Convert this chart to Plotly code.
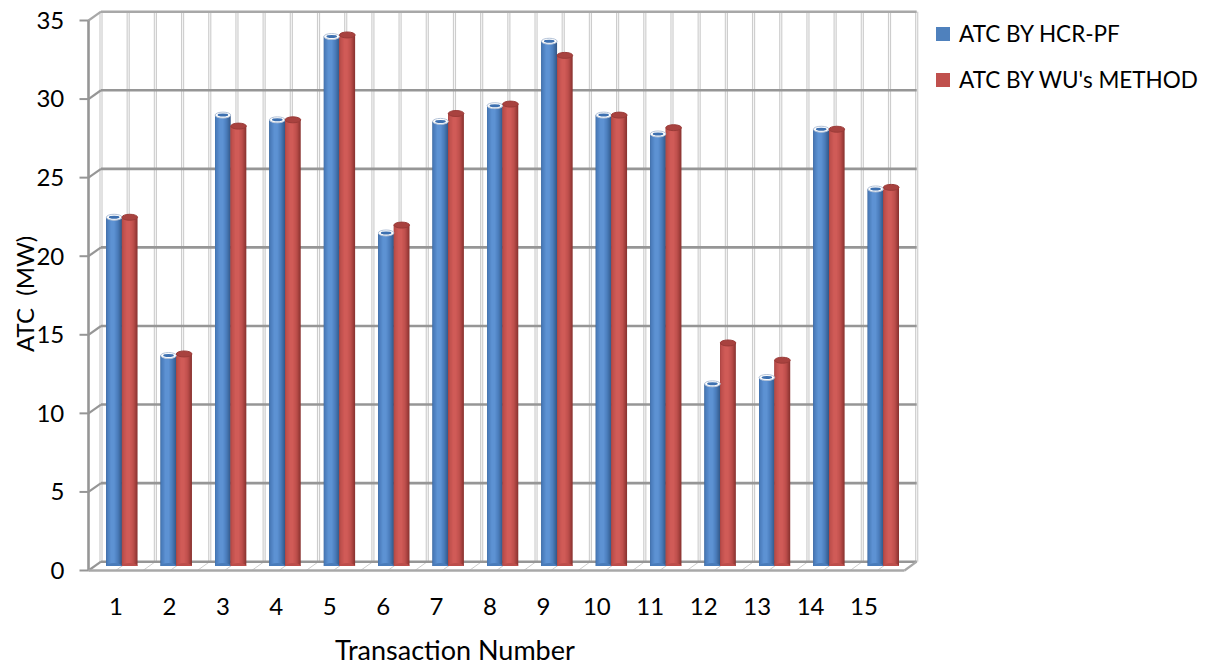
import plotly.graph_objects as go

# ---- data -------------------------------------------------------------
transactions = [str(i) for i in range(1, 16)]
atc_hcr_pf = [22.2, 13.4, 28.7, 28.4, 33.7, 21.2, 28.3, 29.3, 33.4, 28.7, 27.5, 11.6, 12.0, 27.8, 24.0]
atc_wu = [22.2, 13.5, 28.0, 28.4, 33.8, 21.7, 28.8, 29.4, 32.5, 28.7, 27.9, 14.2, 13.1, 27.8, 24.1]
y_ticks = [0, 5, 10, 15, 20, 25, 30, 35]
series_names = ["ATC BY HCR-PF", "ATC BY WU's METHOD"]

# ---- geometry of the pseudo-3D box (pixels) ---------------------------
W, H = 1211, 666
YMAX = 35
N = len(transactions)
# (left x, right x, y of value 0, y of value YMAX)
FRONT = (88.5, 904.5, 570.5, 20.5)
BACK = (101.0, 916.7, 561.7, 11.7)
MID = tuple((a + b) / 2 for a, b in zip(FRONT, BACK))
# plane on which the category labels sit
LABELS = (89.3, 890.7, 570.5, 20.5)

FONT = "Lato"
GRID_DARK = "#969696"
GRID_LIGHT = "#cdcdcd"


def dom_x(p):
    return [p[0] / W, p[1] / W]


def dom_y(p):
    return [1 - p[2] / H, 1 - p[3] / H]


def px(p, c):
    """paper x of category coordinate c on plane p"""
    return (p[0] + (c + 0.5) / N * (p[1] - p[0])) / W


def py(p, v):
    """paper y of value v on plane p"""
    return 1 - (p[2] + (p[3] - p[2]) * v / YMAX) / H


def hex_rgb(h):
    h = h.lstrip("#")
    return tuple(int(h[i:i + 2], 16) for i in (0, 2, 4))


def blend(a, b, t):
    ra, rb = hex_rgb(a), hex_rgb(b)
    return "rgb(%d,%d,%d)" % tuple(round(x + (y - x) * t) for x, y in zip(ra, rb))


BW = 0.287  # bar width in category units


def cylinder(values, offset, edge, mid, hi):
    """nested bars giving a shaded cylinder look"""
    traces = []
    K = 8
    centre = 0.40
    for k in range(K):
        t = k / (K - 1)
        col = blend(edge, mid, t * 2) if t < 0.5 else blend(mid, hi, (t - 0.5) * 2)
        hw = 0.62 - k * 0.07
        lo, up = max(0.0, centre - hw), min(1.0, centre + hw)
        traces.append(go.Bar(
            x=list(range(N)), y=values,
            offset=offset + lo * BW, width=(up - lo) * BW,
            marker=dict(color=col, line=dict(width=0)),
            showlegend=False, hoverinfo="skip",
        ))
    return traces


fig = go.Figure()
for tr in cylinder(atc_hcr_pf, -BW, "#33598a", "#4a7cba", "#5d92d3"):
    fig.add_trace(tr)
for tr in cylinder(atc_wu, 0.0, "#8a3330", "#bc4e4b", "#d05b57"):
    fig.add_trace(tr)

# dummy trace so the label axes are drawn
fig.add_trace(go.Scatter(x=[0], y=[0], xaxis="x2", yaxis="y2", mode="markers",
                         marker=dict(opacity=0), showlegend=False, hoverinfo="skip"))

shapes = []
half_steps = [i * 0.5 - 0.5 for i in range(2 * N + 1)]

# back-wall vertical grid (double hairlines)
for c in half_steps:
    x = px(BACK, c)
    shapes.append(dict(type="line", xref="paper", yref="paper", layer="below",
                       x0=x, x1=x, y0=py(BACK, 0), y1=py(BACK, YMAX),
                       line=dict(color=GRID_LIGHT, width=3.2)))
    shapes.append(dict(type="line", xref="paper", yref="paper", layer="below",
                       x0=x, x1=x, y0=py(BACK, 0), y1=py(BACK, YMAX),
                       line=dict(color="#f7f7f7", width=1)))
    # floor depth lines
    shapes.append(dict(type="line", xref="paper", yref="paper", layer="below",
                       x0=x, x1=px(FRONT, c), y0=py(BACK, 0), y1=py(FRONT, 0),
                       line=dict(color=GRID_LIGHT, width=1)))

# back-wall horizontal grid and left-wall connectors
for v in y_ticks:
    col = "#a8a8a8" if v == YMAX else GRID_DARK
    shapes.append(dict(type="line", xref="paper", yref="paper", layer="below",
                       x0=px(BACK, -0.5), x1=px(BACK, N - 0.5), y0=py(BACK, v), y1=py(BACK, v),
                       line=dict(color=col, width=2.6)))
    shapes.append(dict(type="line", xref="paper", yref="paper", layer="below",
                       x0=px(FRONT, -0.5), x1=px(BACK, -0.5), y0=py(FRONT, v), y1=py(BACK, v),
                       line=dict(color=col, width=2.2)))
    # tick mark on the front edge
    shapes.append(dict(type="line", xref="paper", yref="paper", layer="below",
                       x0=px(FRONT, -0.5) - 9 / W, x1=px(FRONT, -0.5), y0=py(FRONT, v), y1=py(FRONT, v),
                       line=dict(color=GRID_DARK, width=2)))

# front vertical edge of the box
shapes.append(dict(type="line", xref="paper", yref="paper", layer="below",
                   x0=px(FRONT, -0.5), x1=px(FRONT, -0.5), y0=py(FRONT, 0), y1=py(FRONT, YMAX),
                   line=dict(color=GRID_DARK, width=2.6)))
# front edge and right end of the floor slab
shapes.append(dict(type="line", xref="paper", yref="paper", layer="below",
                   x0=px(FRONT, -0.5), x1=px(FRONT, N - 0.5), y0=py(FRONT, 0), y1=py(FRONT, 0),
                   line=dict(color="#a8a8a8", width=2.6)))
shapes.append(dict(type="line", xref="paper", yref="paper", layer="below",
                   x0=px(FRONT, N - 0.5), x1=px(BACK, N - 0.5), y0=py(FRONT, 0), y1=py(BACK, 0),
                   line=dict(color="#a8a8a8", width=2.2)))

# cylinder caps and rounded bottoms
CAP = 0.19
for i in range(N):
    v = atc_hcr_pf[i]
    x0, x1 = i - BW, i
    shapes.append(dict(type="circle", xref="x", yref="y", layer="above",
                       x0=x0, x1=x1, y0=-CAP, y1=CAP,
                       fillcolor="#4a7cba", line=dict(width=0)))
    shapes.append(dict(type="circle", xref="x", yref="y", layer="above",
                       x0=x0, x1=x1, y0=v - CAP, y1=v + CAP,
                       fillcolor="#ffffff", line=dict(color="#b4c3d8", width=1)))
    shapes.append(dict(type="circle", xref="x", yref="y", layer="above",
                       x0=x0 + BW * 0.16, x1=x1 - BW * 0.16, y0=v - CAP * 0.5, y1=v + CAP * 0.5,
                       fillcolor="#3d70b0", line=dict(width=0)))
    v = atc_wu[i]
    x0, x1 = i, i + BW
    shapes.append(dict(type="circle", xref="x", yref="y", layer="above",
                       x0=x0, x1=x1, y0=-CAP, y1=CAP,
                       fillcolor="#bc4e4b", line=dict(width=0)))
    shapes.append(dict(type="circle", xref="x", yref="y", layer="above",
                       x0=x0, x1=x1, y0=v - CAP, y1=v + CAP,
                       fillcolor="#a8423f", line=dict(color="#9a3b38", width=1)))

# legend
legend_colors = ["#4f81bd", "#c0504d"]
legend_y = [34, 80]
annotations = []
for name, col, ly in zip(series_names, legend_colors, legend_y):
    shapes.append(dict(type="rect", xref="paper", yref="paper",
                       x0=936 / W, x1=950 / W, y0=1 - (ly - 7) / H, y1=1 - (ly + 7) / H,
                       fillcolor=col, line=dict(width=0)))
    annotations.append(dict(text=name, xref="paper", yref="paper", x=957 / W, y=1 - ly / H,
                            xanchor="left", yanchor="middle", showarrow=False,
                            font=dict(family=FONT, size=22.5, color="#000000")))

annotations.append(dict(text="Transaction Number", xref="paper", yref="paper",
                        x=455 / W, y=1 - 649 / H, xanchor="center", yanchor="middle",
                        showarrow=False, font=dict(family=FONT, size=27, color="#000000")))
annotations.append(dict(text="ATC  (MW)", xref="paper", yref="paper", textangle=-90,
                        x=25 / W, y=1 - 294 / H, xanchor="center", yanchor="middle",
                        showarrow=False, font=dict(family=FONT, size=24, color="#000000")))

fig.update_layout(
    template="none",
    width=W, height=H, autosize=False,
    margin=dict(l=0, r=0, t=0, b=0, pad=0),
    paper_bgcolor="#ffffff", plot_bgcolor="rgba(0,0,0,0)",
    barmode="overlay",
    showlegend=False,
    shapes=shapes,
    annotations=annotations,
    xaxis=dict(domain=dom_x(MID), range=[-0.5, N - 0.5], visible=False, anchor="y",
               automargin=False, fixedrange=True),
    yaxis=dict(domain=dom_y(MID), range=[0, YMAX], visible=False, anchor="x",
               automargin=False, fixedrange=True),
    xaxis2=dict(domain=dom_x(LABELS), range=[-0.5, N - 0.5], anchor="y2",
                tickmode="array", tickvals=list(range(N)), ticktext=transactions,
                showgrid=False, zeroline=False, showline=False,
                ticks="", ticklabelstandoff=19, automargin=False, fixedrange=True,
                tickfont=dict(family=FONT, size=24, color="#000000")),
    yaxis2=dict(domain=dom_y(LABELS), range=[0, YMAX], anchor="x2",
                tickmode="array", tickvals=y_ticks,
                showgrid=False, zeroline=False, showline=False,
                ticks="", ticklabelstandoff=24, automargin=False, fixedrange=True,
                tickfont=dict(family=FONT, size=24, color="#000000")),
)

fig.write_html("out.html")
